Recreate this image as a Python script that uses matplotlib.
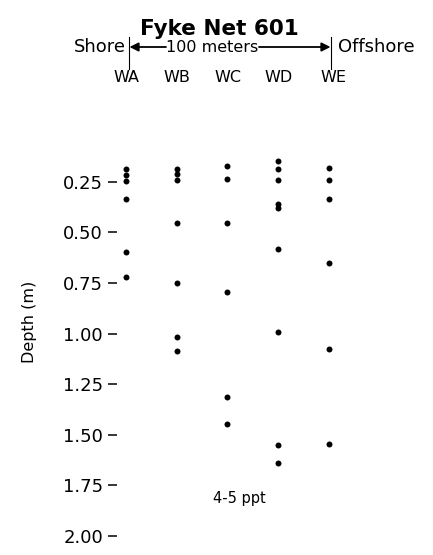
import matplotlib
matplotlib.use("Agg")
import matplotlib.pyplot as plt
from matplotlib.patches import FancyArrowPatch
from matplotlib.transforms import blended_transform_factory

# ---- data ----
stations = ["WA", "WB", "WC", "WD", "WE"]
depth_WA = [0.186, 0.215, 0.245, 0.332, 0.595, 0.719]
depth_WB = [0.186, 0.210, 0.240, 0.454, 0.751, 1.016, 1.087]
depth_WC = [0.171, 0.237, 0.454, 0.793, 1.316, 1.448]
depth_WD = [0.145, 0.186, 0.240, 0.361, 0.379, 0.583, 0.991, 1.552, 1.643]
depth_WE = [0.182, 0.240, 0.334, 0.652, 1.078, 1.547]
depths = [depth_WA, depth_WB, depth_WC, depth_WD, depth_WE]
yticks = [0.25, 0.50, 0.75, 1.00, 1.25, 1.50, 1.75, 2.00]
ytick_labels = ["0.25", "0.50", "0.75", "1.00", "1.25", "1.50", "1.75", "2.00"]

W, H = 433, 555
plt.rcParams['font.family'] = ['DejaVu Sans']
fig = plt.figure(figsize=(W / 100, H / 100), dpi=100)


def fx(px):
    return px / W


def fy(py):
    return 1 - py / H


left, right, top, bottom = 117, 360, 150, 545
ax = fig.add_axes([fx(left), fy(bottom), fx(right) - fx(left), fy(top) - fy(bottom)])

for i, d in enumerate(depths):
    ax.plot([i] * len(d), d, 'o', color='black', ms=4.3, mec='none')

ax.set_xlim(-0.177, 4.611)
ax.set_ylim(2.047, 0.0916)
ax.set_yticks(yticks)
ax.set_yticklabels(ytick_labels, fontsize=13)
ax.set_xticks([])
for s in ax.spines.values():
    s.set_visible(False)
ax.tick_params(axis='y', length=6.5, width=1.1, pad=3.5, direction='out')

fig.text(fx(30), fy(322), "Depth (m)", rotation=90, ha='center', va='center', fontsize=11.5)

# station labels
tr = blended_transform_factory(ax.transData, fig.transFigure)
for i, s in enumerate(stations):
    ax.text(i + (0.08 if i == 4 else 0.0), fy(77), s, transform=tr, ha='center', va='center',
            fontsize=11.5)

# title
fig.text(fx(219.5), fy(35), "Fyke Net 601", ha='center', va='baseline',
         fontsize=15.5, fontweight='bold')

# header: Shore | <-- 100 meters --> | Offshore
fig.text(fx(126), fy(47), "Shore", ha='right', va='center', fontsize=13)
fig.text(fx(338), fy(47), "Offshore", ha='left', va='center', fontsize=13)
fig.text(fx(212.5), fy(47), "100 meters", ha='center', va='center', fontsize=11.5)
for xv in (129, 331):
    fig.add_artist(plt.Line2D([fx(xv), fx(xv)], [fy(37), fy(69)], color='black', lw=0.8,
                              transform=fig.transFigure))
ap = dict(arrowstyle='-|>', lw=1.3, color='black', mutation_scale=13, shrinkA=0, shrinkB=0)
fig.add_artist(FancyArrowPatch((fx(166), fy(47)), (fx(129.5), fy(47)),
                               transform=fig.transFigure, **ap))
fig.add_artist(FancyArrowPatch((fx(259), fy(47)), (fx(330.5), fy(47)),
                               transform=fig.transFigure, **ap))

# annotation
fig.text(fx(239), fy(498), "4-5 ppt", ha='center', va='center', fontsize=10.5)

fig.savefig("out.png", dpi=100)
